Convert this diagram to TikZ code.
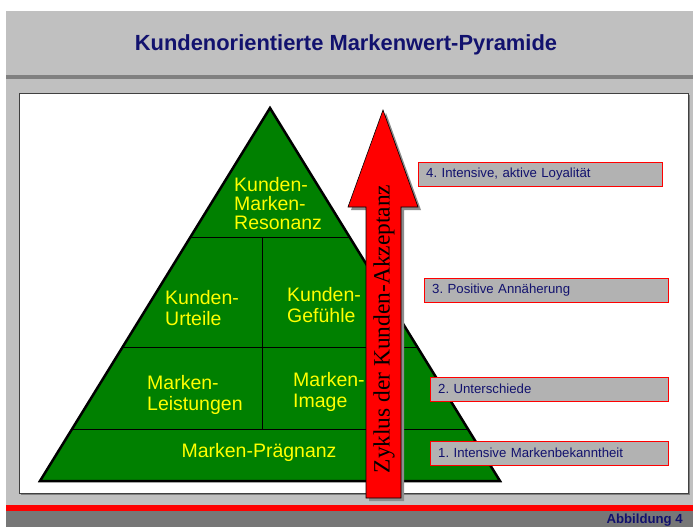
\documentclass[tikz,border=0pt]{standalone}
\usepackage{fontspec}
\setmainfont{Liberation Sans}
\newfontfamily\serifface{Liberation Serif}
\usetikzlibrary{arrows.meta,positioning,shapes,calc}
\definecolor{navy}{HTML}{12126E}
\definecolor{pyrgreen}{HTML}{008000}
\definecolor{pyryellow}{HTML}{FFFF00}
\definecolor{bandgrey}{HTML}{C0C0C0}
\definecolor{lineGrey}{HTML}{808080}
\definecolor{footgrey}{HTML}{777777}
\definecolor{boxgrey}{HTML}{B2B2B2}
\frenchspacing

\begin{document}
\begin{tikzpicture}[x=1pt,y=-1pt,every node/.style={inner sep=0pt},
  level/.style={text=pyryellow,font=\fontsize{19.5}{20.5}\selectfont,align=left},
  stage/.style={draw=red,fill=boxgrey,text=navy,font=\fontsize{13.2}{15}\selectfont,anchor=north west,minimum height=24,inner xsep=8,text width=#1-16,align=left}]
  \useasboundingbox (0,0) rectangle (693,527);
  % slide background
  \fill[white] (0,0) rectangle (693,527);
  \fill[bandgrey] (6,11) rectangle (693,505);
  \fill[lineGrey] (6,75) rectangle (693,79);
  \fill[red] (6,505) rectangle (693,511);
  \fill[footgrey] (6,511) rectangle (693,527);
  \node[font=\bfseries\fontsize{21.9}{26}\selectfont,text=navy] (title) at (346,45) {Kundenorientierte Markenwert-Pyramide};
  \node[font=\bfseries\fontsize{13.2}{15}\selectfont,text=navy,anchor=base east] (fig) at (683,523.5) {Abbildung 4};
  % white panel
  \fill[lineGrey] (21,95) rectangle (690,495);
  \draw[fill=white,draw=black!75] (19,93) rectangle (688,493);
  % pyramid
  \coordinate (top) at (270,108);
  \coordinate (bl) at (40,481);
  \coordinate (br) at (500,481);
  \filldraw[fill=pyrgreen,line width=2.5pt,line join=miter] (top) -- (br) -- (bl) -- cycle;
  \foreach \f in {0.346,0.643,0.861}{\draw[line width=0.8pt] ($(top)!\f!(bl)$) -- ($(top)!\f!(br)$);}
  \draw[line width=0.8pt] (262,237) -- (262,429);
  \node[level,anchor=west,font=\fontsize{19.5}{19}\selectfont] (resonanz) at (234,204) {Kunden-\\Marken-\\Resonanz};
  \node[level,anchor=west] (urteile) at (165,308) {Kunden-\\Urteile};
  \node[level,anchor=west] (gefuehle) at (287,305) {Kunden-\\Gefühle};
  \node[level,anchor=west] (leistungen) at (147,395) {Marken-\\Leistungen};
  \node[level,anchor=west] (image) at (293,392) {Marken-\\Image};
  \node[level] (praegnanz) at (259,452) {Marken-Prägnanz};
  % acceptance arrow
  \fill[black!45] (386,113) -- (421,210) -- (404,210) -- (404,501) -- (369,501) -- (369,210) -- (351,210) -- cycle;
  \filldraw[fill=red,draw=black,line width=0.6pt] (383,110) -- (418,207) -- (401,207) -- (401,498) -- (366,498) -- (366,207) -- (348,207) -- cycle;
  \node[rotate=90,font=\serifface\fontsize{23.4}{26}\selectfont] (zyklus) at (384,329) {Zyklus der Kunden-Akzeptanz};
  % stages
  \node[stage=244] (s4) at (418,162) {4. Intensive, aktive Loyalität};
  \node[stage=244] (s3) at (424,278) {3. Positive Annäherung};
  \node[stage=238] (s2) at (430,377) {2. Unterschiede};
  \node[stage=238] (s1) at (430,441) {1. Intensive Markenbekanntheit};
\end{tikzpicture}
\end{document}
